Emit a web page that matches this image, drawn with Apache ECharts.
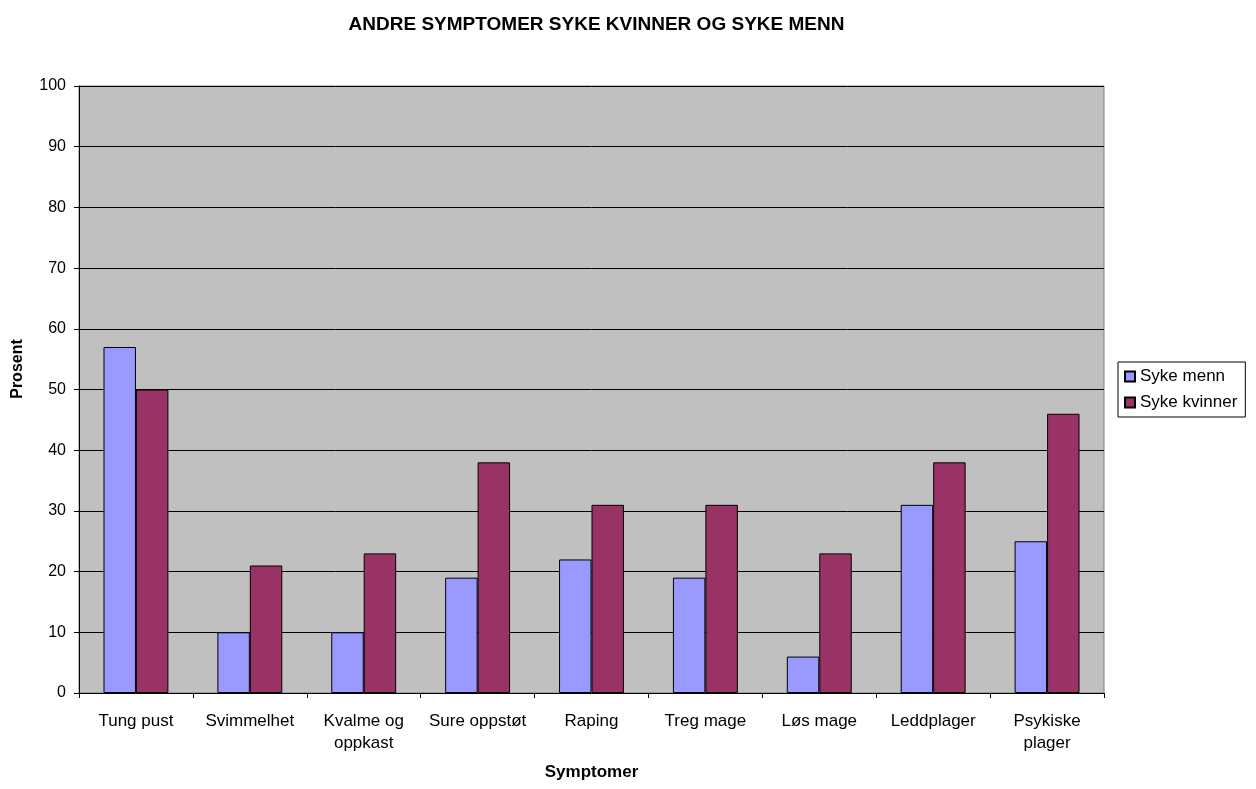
<!DOCTYPE html>
<html>
<head>
<meta charset="utf-8">
<script src="https://cdn.jsdelivr.net/npm/echarts@6/dist/echarts.min.js"></script>
<style>
  html, body { margin: 0; padding: 0; background: #fff; overflow: hidden; }
  #chart { width: 1256px; height: 789px; }
</style>
</head>
<body>
<div id="chart"></div>
<script>
// Symptom categories and percentages per group
const categories = ['Tung pust', 'Svimmelhet', 'Kvalme og\noppkast', 'Sure oppstøt', 'Raping',
                    'Treg mage', 'Løs mage', 'Leddplager', 'Psykiske\nplager'];
const sykeMenn = [57, 10, 10, 19, 22, 19, 6, 31, 25];
const sykeKvinner = [50, 21, 23, 38, 31, 31, 23, 38, 46];
const seriesNames = ['Syke menn', 'Syke kvinner'];
const yTicks = { min: 0, max: 100, interval: 10 };

const FONT = '"Liberation Sans", Arial, sans-serif';
const chart = echarts.init(document.getElementById('chart'), null, { renderer: 'canvas' });

chart.setOption({
  animation: false,
  backgroundColor: '#ffffff',
  textStyle: { fontFamily: FONT },
  title: {
    text: 'ANDRE SYMPTOMER SYKE KVINNER OG SYKE MENN',
    left: 591.5,
    textAlign: 'center',
    top: 10,
    textStyle: { fontFamily: FONT, fontSize: 19, fontWeight: 'bold', color: '#000' }
  },
  legend: {
    orient: 'vertical',
    left: 1118,
    top: 362,
    padding: [6, 8, 6, 6],
    itemGap: 9,
    itemWidth: 10,
    itemHeight: 10,
    icon: 'rect',
    borderColor: '#000',
    borderWidth: 1,
    textStyle: { fontFamily: FONT, fontSize: 17, lineHeight: 17, color: '#000' },
    data: seriesNames
  },
  // vertical axis title, drawn as rotated text
  graphic: [{
    type: 'text',
    x: 18,
    y: 369,
    rotation: Math.PI / 2,
    style: {
      text: 'Prosent',
      font: 'bold 16px ' + FONT,
      fill: '#000',
      textAlign: 'center',
      textVerticalAlign: 'middle'
    }
  }],
  grid: {
    left: 79, right: 152, top: 86, bottom: 96,
    containLabel: false,
    outerBoundsMode: 'none',
    show: true,
    backgroundColor: '#c0c0c0',
    borderColor: '#808080',
    borderWidth: 1
  },
  xAxis: {
    type: 'category',
    data: categories,
    name: 'Symptomer',
    nameLocation: 'middle',
    nameGap: 71,
    nameTextStyle: { fontFamily: FONT, fontSize: 17, fontWeight: 'bold', color: '#000' },
    axisLine: { lineStyle: { color: '#000', width: 1 } },
    axisTick: { show: true, length: 5, lineStyle: { color: '#000' } },
    axisLabel: { fontFamily: FONT, fontSize: 17, color: '#000', margin: 17, lineHeight: 22, interval: 0 }
  },
  yAxis: {
    type: 'value',
    min: yTicks.min,
    max: yTicks.max,
    interval: yTicks.interval,
    axisLine: { show: true, lineStyle: { color: '#000', width: 1 } },
    axisTick: { show: true, length: 5, lineStyle: { color: '#000' } },
    axisLabel: { fontFamily: FONT, fontSize: 16, color: '#000', margin: 13 },
    splitLine: { show: true, lineStyle: { color: '#000', width: 1 } }
  },
  series: [
    {
      name: seriesNames[0],
      type: 'bar',
      data: sykeMenn,
      barGap: '0%',
      barCategoryGap: '43%',
      itemStyle: { color: '#9999ff', borderColor: '#000', borderWidth: 1 }
    },
    {
      name: seriesNames[1],
      type: 'bar',
      data: sykeKvinner,
      itemStyle: { color: '#993366', borderColor: '#000', borderWidth: 1 }
    }
  ]
});
</script>
</body>
</html>
